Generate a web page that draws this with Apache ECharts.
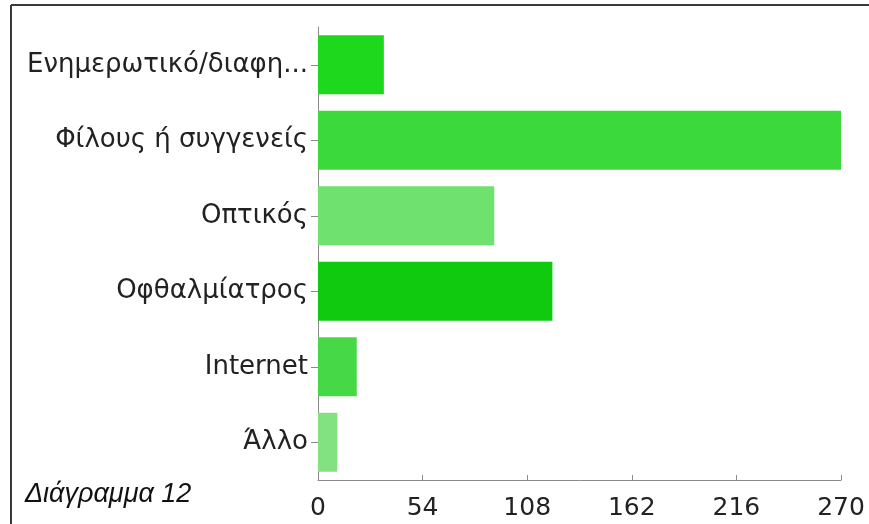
<!DOCTYPE html>
<html>
<head>
<meta charset="utf-8">
<script src="https://cdn.jsdelivr.net/npm/echarts@6/dist/echarts.min.js"></script>
<style>
  html, body { margin: 0; padding: 0; background: #fff; }
  #chart { width: 869px; height: 524px; }
</style>
</head>
<body>
<div id="chart"></div>
<script>
// Survey answers: where respondents heard about it
const categories = ['Ενημερωτικό/διαφη...', 'Φίλους ή συγγενείς', 'Οπτικός', 'Οφθαλμίατρος', 'Internet', 'Άλλο'];
const counts = [34, 270, 91, 121, 20, 10];
const barColors = ['#1ed81e', '#3cd93c', '#6fe16f', '#0fca0f', '#46d846', '#82e282'];
const tickValues = [0, 54, 108, 162, 216, 270];
const captionText = 'Διάγραμμα 12';

const labelFont = '"DejaVu Sans", "Liberation Sans", Arial, sans-serif';

const chart = echarts.init(document.getElementById('chart'));

chart.setOption({
  animation: false,
  backgroundColor: '#ffffff',
  grid: { left: 318, right: 28, top: 27, bottom: 44 },
  xAxis: {
    type: 'value',
    min: tickValues[0],
    max: tickValues[tickValues.length - 1],
    interval: tickValues[1] - tickValues[0],
    splitLine: { show: false },
    axisLine: { show: true, lineStyle: { color: '#8a8a8a', width: 1 } },
    axisTick: { show: true, inside: true, length: 5, lineStyle: { color: '#8a8a8a' } },
    axisLabel: {
      margin: 16,
      color: '#222',
      fontFamily: labelFont,
      fontSize: 25,
      showMinLabel: true,
      showMaxLabel: true
    }
  },
  yAxis: {
    type: 'category',
    inverse: true,
    data: categories,
    axisLine: { show: true, lineStyle: { color: '#8a8a8a', width: 1 } },
    axisTick: { show: true, alignWithLabel: true, length: 7, lineStyle: { color: '#8a8a8a' } },
    axisLabel: {
      margin: 10,
      color: '#222',
      fontFamily: labelFont,
      fontSize: 26
    }
  },
  series: [{
    type: 'bar',
    barWidth: 59,
    data: counts.map((v, i) => ({ value: v, itemStyle: { color: barColors[i] } }))
  }],
  graphic: [
    { type: 'line', shape: { x1: 11, y1: 5, x2: 869, y2: 5 }, style: { stroke: '#3a3a3a', lineWidth: 2 } },
    { type: 'line', shape: { x1: 11, y1: 5, x2: 11, y2: 524 }, style: { stroke: '#3a3a3a', lineWidth: 2 } },
    {
      type: 'text',
      x: 25,
      y: 494,
      style: {
        text: captionText,
        fill: '#111',
        verticalAlign: 'middle',
        font: 'italic 27px "Liberation Sans", Arial, sans-serif'
      }
    }
  ]
});
</script>
</body>
</html>
